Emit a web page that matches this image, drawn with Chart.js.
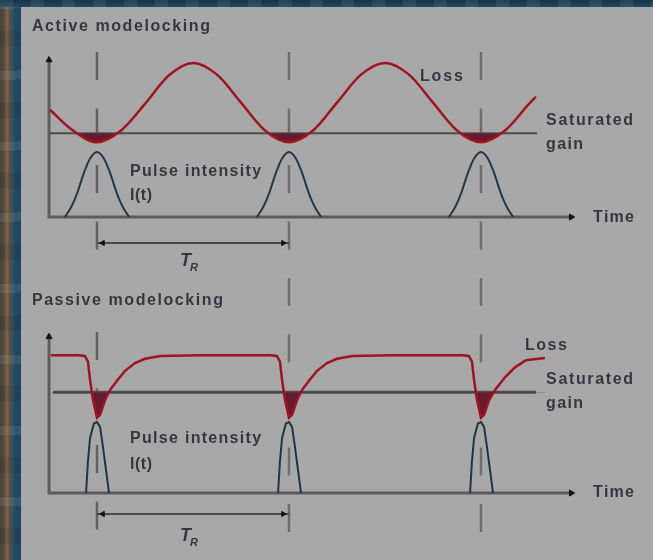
<!DOCTYPE html>
<html>
<head>
<meta charset="utf-8">
<title>Active and passive modelocking</title>
<script src="https://cdn.jsdelivr.net/npm/chart.js@4/dist/chart.umd.min.js"></script>
<style>
  html, body { margin: 0; padding: 0; width: 653px; height: 560px; overflow: hidden; background: #a8a8a8; }
  .stone-left {
    position: absolute; left: 0; top: 0; width: 21px; height: 560px;
    background:
      repeating-linear-gradient(178deg, rgba(230,215,185,0.10) 0 9px, rgba(0,0,0,0) 9px 31px, rgba(30,20,10,0.10) 31px 47px, rgba(0,0,0,0) 47px 71px),
      linear-gradient(to right, #3a4148 0, #5c4a37 4px, #7d6549 7px, #604c38 10px, #33556b 12px, #1e4a66 15px, #1c4660 21px);
  }
  .stone-top {
    position: absolute; left: 0; top: 0; width: 653px; height: 7px;
    background:
      repeating-linear-gradient(90deg, rgba(255,255,255,0.05) 0 13px, rgba(0,0,0,0.07) 13px 31px),
      linear-gradient(#18354b, #22506a);
  }
  canvas { position: absolute; left: 0; top: 0; }
</style>
</head>
<body>
<div class="stone-left"></div>
<div class="stone-top"></div>
<canvas id="modelocking" width="653" height="560"></canvas>
<script>
// Time is measured in cavity round trips T_R; the pulses sit at t = 0, 1, 2.
// Vertical values are normalised so that each panel's pulse peak is 1.
const pulseCentres = [0, 1, 2];

// Active modelocking: modulated loss, saturated gain, pulse shape
const activeLossT = [-0.245, -0.125, 0, 0.125, 0.25, 0.375, 0.5, 0.625, 0.75, 0.875, 1,
                     1.125, 1.25, 1.375, 1.5, 1.625, 1.75, 1.875, 2, 2.125, 2.25, 2.286];
const activeLoss  = [1.65, 1.33, 1.15, 1.33, 1.74, 2.18, 2.37, 2.19, 1.76, 1.33, 1.15,
                     1.33, 1.76, 2.19, 2.37, 2.19, 1.76, 1.33, 1.15, 1.33, 1.74, 1.85];
const activeGain = 1.29;
const activePulseOffsets = [-0.167, -0.135, -0.104, -0.068, -0.036, 0, 0.036, 0.068, 0.104, 0.135, 0.167];
const activePulseLevels  = [0, 0.15, 0.36, 0.68, 0.9, 1, 0.9, 0.68, 0.36, 0.15, 0];

// Passive modelocking: saturable loss, saturated gain, pulse shape
const passiveLossT = [-0.24, -0.1, -0.063, -0.047, -0.036, -0.021, 0, 0.016, 0.042, 0.068, 0.104, 0.146, 0.198, 0.25, 0.33, 0.54,
                      0.9, 0.937, 0.953, 0.964, 0.979, 1, 1.016, 1.042, 1.068, 1.104, 1.146, 1.198, 1.25, 1.33, 1.54,
                      1.9, 1.937, 1.953, 1.964, 1.979, 2, 2.016, 2.042, 2.073, 2.125, 2.177, 2.234, 2.333];
const passiveLoss  = [1.94, 1.94, 1.93, 1.85, 1.59, 1.31, 1.06, 1.10, 1.31, 1.45, 1.58, 1.72, 1.83, 1.89, 1.93, 1.94,
                      1.94, 1.93, 1.85, 1.59, 1.31, 1.06, 1.10, 1.31, 1.45, 1.58, 1.72, 1.83, 1.89, 1.93, 1.94,
                      1.94, 1.93, 1.85, 1.59, 1.31, 1.06, 1.10, 1.31, 1.45, 1.63, 1.77, 1.87, 1.90];
const passiveGain = 1.42;
const passivePulseOffsets = [-0.057, -0.047, -0.036, -0.016, 0, 0.016, 0.031, 0.049, 0.0625];
const passivePulseLevels  = [0, 0.45, 0.78, 0.98, 1, 0.93, 0.65, 0.28, 0];

// Extents of the drawn axes, reference lines and round-trip markers
const frame = {
  timeStart: -0.25, timeEnd: 2.47,
  activeAxisTop: 2.415, passiveAxisTop: 2.2,
  activeGainFrom: -0.245, activeGainTo: 2.292,
  passiveGainFrom: -0.229, passiveGainTo: 2.286,
  guideTop: 2.538, guideBottom: -4.862,       // guide lines, in active-panel units
  guideBreakTop: -0.508, guideBreakBottom: -1.769,
  activeSpanY: -0.4, passiveSpanY: -0.296
};

const textColour = '#383540';
const baseFont = '"Liberation Sans", Arial, sans-serif';
const labels = [
  { text: 'Active modelocking',  axis: 'yA', x: -0.339, y: 2.862, width: 178 },
  { text: 'Loss',                axis: 'yA', x: 1.682,  y: 2.092, width: 43 },
  { text: 'Saturated',           axis: 'yA', x: 2.339,  y: 1.415, width: 87 },
  { text: 'gain',                axis: 'yA', x: 2.339,  y: 1.046, width: 37 },
  { text: 'Time',                axis: 'yA', x: 2.583,  y: -0.077, width: 41 },
  { text: 'Pulse intensity',     axis: 'yA', x: 0.172,  y: 0.631, width: 131 },
  { text: 'I(t)',                axis: 'yA', x: 0.172,  y: 0.262, width: 22 },
  { text: 'T', sub: 'R',         axis: 'yA', x: 0.432,  y: -0.754 },
  { text: 'Passive modelocking', axis: 'yP', x: -0.339, y: 2.648, width: 191 },
  { text: 'Loss',                axis: 'yP', x: 2.229,  y: 2.014, width: 42 },
  { text: 'Saturated',           axis: 'yP', x: 2.339,  y: 1.535, width: 87 },
  { text: 'gain',                axis: 'yP', x: 2.339,  y: 1.197, width: 37 },
  { text: 'Time',                axis: 'yP', x: 2.583,  y: -0.056, width: 41 },
  { text: 'Pulse intensity',     axis: 'yP', x: 0.172,  y: 0.704, width: 131 },
  { text: 'I(t)',                axis: 'yP', x: 0.172,  y: 0.338, width: 22 },
  { text: 'T', sub: 'R',         axis: 'yP', x: 0.432,  y: -0.676 }
];

const pts = (xs, ys) => xs.map((x, i) => ({ x, y: ys[i] }));
const seg = (data, yAxisID, extra) => Object.assign({
  data, yAxisID, showLine: true, fill: false, tension: 0, pointRadius: 0, pointHoverRadius: 0, borderWidth: 2, clip: false
}, extra);

const datasets = [];

// dashed guide lines through each pulse
datasets.push(seg([{ x: 0, y: frame.guideTop }, { x: 0, y: frame.guideBreakTop }], 'yA',
  { borderColor: '#626262', borderWidth: 2.5, borderDash: [28, 28.5], order: 10 }));
datasets.push(seg([{ x: 0, y: frame.guideBreakBottom }, { x: 0, y: frame.guideBottom }], 'yA',
  { borderColor: '#626262', borderWidth: 2.5, borderDash: [28, 28.5], order: 10 }));
[1, 2].forEach(c => datasets.push(seg([{ x: c, y: frame.guideTop }, { x: c, y: frame.guideBottom }], 'yA',
  { borderColor: '#6c6c6c', borderWidth: 2.5, borderDash: [28, 28.5], order: 10 })));

// axes with arrow heads
[['yA', frame.activeAxisTop], ['yP', frame.passiveAxisTop]].forEach(([axis, top]) => {
  datasets.push(seg([{ x: frame.timeStart, y: top }, { x: frame.timeStart, y: 0 }, { x: frame.timeEnd, y: 0 }], axis, {
    borderColor: '#5c5c5c', borderWidth: 3, order: 8,
    pointRadius: [3.5, 0, 3.5], pointStyle: 'triangle', pointRotation: [0, 0, 90],
    pointBackgroundColor: '#141414', pointBorderColor: '#141414', pointBorderWidth: 1
  }));
});

// saturated gain levels
datasets.push(seg([{ x: frame.activeGainFrom, y: activeGain }, { x: frame.activeGainTo, y: activeGain }], 'yA',
  { borderColor: '#505050', borderWidth: 2, order: 7 }));
datasets.push(seg([{ x: frame.passiveGainFrom, y: passiveGain }, { x: frame.passiveGainTo, y: passiveGain }], 'yP',
  { borderColor: '#4c4c4c', borderWidth: 3, order: 7 }));

// pulses
pulseCentres.forEach(c => {
  datasets.push(seg(pts(activePulseOffsets.map(o => c + o), activePulseLevels), 'yA',
    { borderColor: '#1d3a50', borderWidth: 2, cubicInterpolationMode: 'monotone', order: 6 }));
  datasets.push(seg(pts(passivePulseOffsets.map(o => c + o), passivePulseLevels), 'yP',
    { borderColor: '#1b364c', borderWidth: 2, order: 6 }));
});

// loss curves; the net-gain window (loss under gain) is shaded
datasets.push(seg(pts(activeLossT, activeLoss), 'yA', {
  borderColor: '#a3121f', borderWidth: 2.5, cubicInterpolationMode: 'monotone', order: 5,
  fill: { target: { value: activeGain }, above: 'rgba(0,0,0,0)', below: '#651a2e' }
}));
datasets.push(seg(pts(passiveLossT, passiveLoss), 'yP', {
  borderColor: '#a3121f', borderWidth: 2.5, order: 5,
  fill: { target: { value: passiveGain }, above: 'rgba(0,0,0,0)', below: '#651a2e' }
}));

// round-trip time markers
[['yA', frame.activeSpanY], ['yP', frame.passiveSpanY]].forEach(([axis, y]) => {
  datasets.push(seg([{ x: 0, y }, { x: 0.03, y }, { x: 0.97, y }, { x: 1, y }], axis, {
    borderColor: '#4a4a4a', borderWidth: 2, order: 4,
    pointRadius: [0, 3, 3, 0], pointStyle: 'triangle', pointRotation: [0, -90, 90, 0],
    pointBackgroundColor: '#111111', pointBorderColor: '#111111', pointBorderWidth: 1
  }));
});

function drawSpaced(ctx, text, x, y, width) {
  const chars = [...text];
  const widths = chars.map(ch => ctx.measureText(ch).width);
  const natural = widths.reduce((a, b) => a + b, 0);
  const gap = width && chars.length > 1 ? Math.max(0, (width - natural) / (chars.length - 1)) : 0;
  let cx = x;
  chars.forEach((ch, i) => { ctx.fillText(ch, cx, y); cx += widths[i] + gap; });
}

const diagramLabels = {
  id: 'diagramLabels',
  afterDatasetsDraw(chart) {
    const ctx = chart.ctx;
    const xs = chart.scales.x;
    labels.forEach(l => {
      const px = xs.getPixelForValue(l.x);
      const py = chart.scales[l.axis].getPixelForValue(l.y);
      ctx.save();
      ctx.fillStyle = textColour;
      ctx.textBaseline = 'alphabetic';
      ctx.textAlign = 'left';
      if (l.sub) {
        ctx.font = 'italic bold 18px ' + baseFont;
        ctx.fillText(l.text, px, py);
        const w = ctx.measureText(l.text).width;
        ctx.font = 'italic bold 11px ' + baseFont;
        ctx.fillText(l.sub, px + w - 1, py + 5);
      } else {
        ctx.font = 'bold 16px ' + baseFont;
        drawSpaced(ctx, l.text, px, py, l.width);
      }
      ctx.restore();
    });
  }
};

new Chart(document.getElementById('modelocking'), {
  type: 'scatter',
  data: { datasets },
  options: {
    responsive: false,
    devicePixelRatio: 1,
    animation: false,
    events: [],
    layout: { padding: 0, autoPadding: false },
    plugins: { legend: { display: false }, tooltip: { enabled: false }, title: { display: false } },
    scales: {
      // view window: the canvas spans these ranges
      x:  { type: 'linear', display: false, min: -0.50521, max: 2.89583 },
      yA: { type: 'linear', display: false, min: -5.2769, max: 3.3385 },
      yP: { type: 'linear', display: false, min: -0.9437, max: 6.9437 }
    }
  },
  plugins: [diagramLabels]
});
</script>
</body>
</html>
